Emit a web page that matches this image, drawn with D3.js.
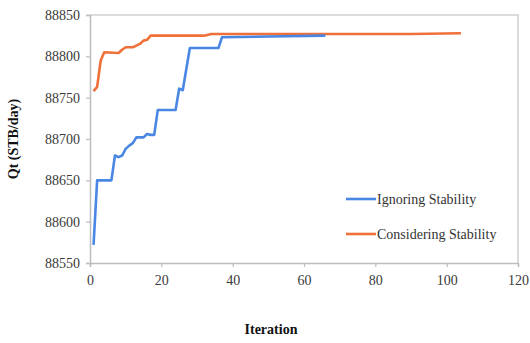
<!DOCTYPE html>
<html><head><meta charset="utf-8">
<script src="https://cdn.jsdelivr.net/npm/d3@7"></script>
<style>body{margin:0;background:#fff}svg{display:block}</style>
</head><body>
<svg id="c" width="530" height="343"></svg>
<script>
const seriesNames = ["Ignoring Stability", "Considering Stability"];
const ignoringIter = [1,2,6,7,8,9,10,11,12,13,15,16,17,18,19,24,25,26,28,36,37,50,66];
const ignoringQt   = [88572,88650,88650,88680,88678,88680,88688,88692,88695,88702,88702,88706,88705,88705,88735,88735,88761,88759,88810,88810,88823,88824,88825];
const consideringIter = [1,2,3,4,8,9,10,12,13,14,15,16,17,32,34,90,104];
const consideringQt   = [88758,88763,88795,88805,88804,88808,88811,88811,88813,88815,88819,88820,88825,88825,88827,88827,88828];
const xTicks = [0,20,40,60,80,100,120];
const yTicks = [88550,88600,88650,88700,88750,88800,88850];
const colors = ["#4a87e4", "#f0703a"];

const svg = d3.select("#c");
const m = {l:90, r:518, t:15, b:263};
const x = d3.scaleLinear().domain([0,120]).range([m.l, m.r]);
const y = d3.scaleLinear().domain([88550,88850]).range([m.b, m.t]);
const serif = "Liberation Serif";

// frame
svg.append("path").attr("d", `M${m.l},${m.t}H${m.r}V${m.b}`)
  .attr("fill","none").attr("stroke","#d0d0d0").attr("stroke-width",1.5);

const xa = svg.append("g").attr("transform",`translate(0,${m.b})`)
  .call(d3.axisBottom(x).tickValues(xTicks).tickSize(4).tickPadding(8));
const ya = svg.append("g").attr("transform",`translate(${m.l},0)`)
  .call(d3.axisLeft(y).tickValues(yTicks).tickFormat(d3.format("d")).tickSize(4).tickPadding(6));
[xa, ya].forEach(a => {
  a.attr("font-family",serif).attr("font-size",14);
  a.select(".domain").attr("stroke","#bdbdbd").attr("stroke-width",1.5);
  a.selectAll(".tick line").attr("stroke","#bdbdbd").attr("stroke-width",1.2);
  a.selectAll(".tick text").attr("fill","#3a3a3a");
});

const line = d3.line().x(d=>x(d[0])).y(d=>y(d[1]));
const data = [
  d3.zip(ignoringIter, ignoringQt),
  d3.zip(consideringIter, consideringQt)
];
[1,0].forEach(i => {
  svg.append("path").datum(data[i]).attr("d", line)
    .attr("fill","none").attr("stroke",colors[i]).attr("stroke-width",2.6)
    .attr("stroke-linejoin","round");
});

// axis titles
svg.append("text").attr("x",271).attr("y",334).attr("text-anchor","middle")
  .attr("font-family",serif).attr("font-weight","bold").attr("font-size",14).attr("fill","#111")
  .text("Iteration");
svg.append("text").attr("transform","translate(18,139) rotate(-90)").attr("text-anchor","middle")
  .attr("font-family",serif).attr("font-weight","bold").attr("font-size",14).attr("fill","#111")
  .text("Qt (STB/day)");

// legend
const lg = svg.append("g");
seriesNames.forEach((n,i) => {
  const yy = 199 + i*35;
  lg.append("line").attr("x1",346).attr("x2",376).attr("y1",yy).attr("y2",yy)
    .attr("stroke",colors[i]).attr("stroke-width",2.6);
  lg.append("text").attr("x",377).attr("y",yy+5).attr("font-family",serif)
    .attr("font-size",14).attr("fill","#333").text(n);
});
</script>
</body></html>
